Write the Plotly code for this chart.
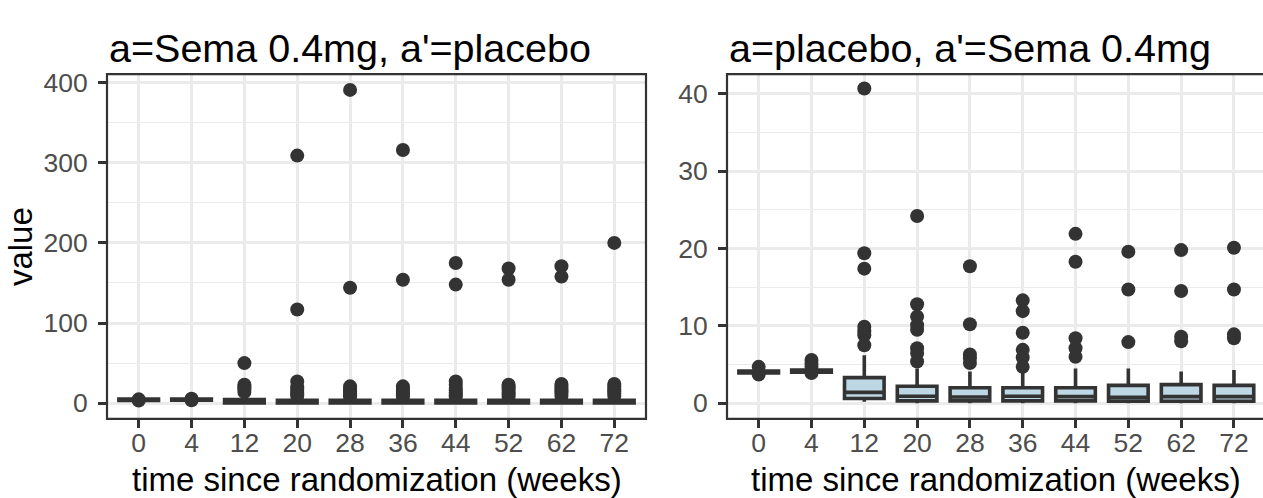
import plotly.graph_objects as go

weeks = ["0", "4", "12", "20", "28", "36", "44", "52", "62", "72"]

# Left panel: a=Sema 0.4mg, a'=placebo  (box statistics)
L_q1 = [3.4, 3.6, 0.3, 0.3, 0.3, 0.3, 0.3, 0.3, 0.3, 0.3]
L_med = [4.0, 4.2, 1.2, 1.0, 1.0, 1.0, 1.0, 1.0, 1.0, 1.0]
L_q3 = [5.0, 5.2, 4.5, 3.5, 3.5, 3.5, 3.5, 3.5, 3.5, 3.5]
L_lo = [3.2, 3.4, 0.1, 0.0, 0.0, 0.0, 0.0, 0.0, 0.0, 0.0]
L_hi = [5.4, 5.6, 8.0, 7.0, 7.0, 7.0, 7.0, 7.0, 7.0, 7.0]
L_out = [
    [4.8, 3.4],
    [5.6, 3.6],
    [50, 23, 20, 17, 14],
    [309, 117, 27, 20, 17, 14, 11, 9],
    [391, 144, 21, 18, 15, 12, 10, 8],
    [316, 154, 21, 18, 15, 12, 10, 8],
    [175, 148, 27, 23, 19, 16, 13, 10, 8],
    [168, 154, 23, 20, 17, 14, 11, 8],
    [171, 158, 24, 21, 18, 15, 12, 9],
    [200, 24, 21, 18, 15, 12, 9],
]

# Right panel: a=placebo, a'=Sema 0.4mg  (box statistics)
R_q1 = [3.9, 4.0, 0.6, 0.3, 0.3, 0.3, 0.3, 0.25, 0.25, 0.25]
R_med = [4.0, 4.15, 1.4, 0.9, 0.8, 0.9, 0.85, 0.75, 0.85, 0.85]
R_q3 = [4.15, 4.3, 3.3, 2.2, 2.0, 2.0, 2.0, 2.3, 2.4, 2.3]
R_lo = [3.8, 3.95, 0.2, 0.0, 0.0, 0.0, 0.0, 0.0, 0.0, 0.0]
R_hi = [4.4, 4.6, 6.2, 4.5, 4.1, 4.4, 4.5, 4.5, 4.1, 4.3]
R_out = [
    [4.7, 3.7],
    [5.6, 5.1, 4.7, 3.9],
    [40.7, 19.4, 17.4, 9.9, 9.3, 8.8, 7.5],
    [24.2, 12.8, 11.2, 10.1, 9.5, 7.1, 6.5, 5.4],
    [17.7, 10.2, 6.3, 5.8, 5.2],
    [13.3, 11.9, 9.1, 6.9, 5.9, 4.7],
    [21.9, 18.3, 8.4, 7.1, 6.0],
    [19.6, 14.7, 7.9],
    [19.8, 14.5, 8.6, 8.0],
    [20.1, 14.7, 8.9, 8.4],
]

titles = ["a=Sema 0.4mg, a'=placebo", "a=placebo, a'=Sema 0.4mg"]

W, H = 1263, 498
FONT = "Liberation Sans, Arial, sans-serif"
DARK = "#333333"
GRID = "#EBEBEB"
FILL = "#BED7E5"

fig = go.Figure()


def add_panel(q1, med, q3, lo, hi, outs, xa, ya):
    fig.add_trace(go.Box(
        x=weeks, q1=q1, median=med, q3=q3, lowerfence=lo, upperfence=hi,
        boxpoints=False, width=0.75, whiskerwidth=0,
        fillcolor=FILL, line=dict(color=DARK, width=3.6),
        xaxis=xa, yaxis=ya, showlegend=False, hoverinfo="skip"))
    xs, ys = [], []
    for w, vals in zip(weeks, outs):
        for v in vals:
            xs.append(w)
            ys.append(v)
    fig.add_trace(go.Scatter(
        x=xs, y=ys, mode="markers",
        marker=dict(color=DARK, size=14, line=dict(width=0)),
        xaxis=xa, yaxis=ya, showlegend=False, hoverinfo="skip"))


add_panel(L_q1, L_med, L_q3, L_lo, L_hi, L_out, "x", "y")
add_panel(R_q1, R_med, R_q3, R_lo, R_hi, R_out, "x2", "y2")

ydom = [(H - 418) / H, (H - 69) / H]
tickfont = dict(family=FONT, size=26.5, color="#4D4D4D")

xcommon = dict(type="category", categoryorder="array", categoryarray=weeks,
               showgrid=True, gridcolor=GRID, gridwidth=2.8,
               ticks="outside", ticklen=8, tickwidth=2.7, tickcolor=DARK,
               tickfont=tickfont, showline=False, zeroline=False,
               ticklabelstandoff=-8)
ycommon = dict(showgrid=True, gridcolor=GRID, gridwidth=2.8,
               ticks="outside", ticklen=8, tickwidth=2.7, tickcolor=DARK,
               tickfont=tickfont, showline=False, zeroline=False,
               ticklabelstandoff=5, domain=ydom)

fig.update_layout(
    width=W, height=H, autosize=False,
    margin=dict(l=0, r=0, t=0, b=0),
    paper_bgcolor="white", plot_bgcolor="white",
    font=dict(family=FONT),
    xaxis=dict(xcommon, domain=[107 / W, 646 / W], range=[-0.6, 9.6], anchor="y"),
    xaxis2=dict(xcommon, domain=[727 / W, 1.0], range=[-0.6, 9.55], anchor="y2"),
    yaxis=dict(ycommon, range=[-19.7, 410.6], tickvals=[0, 100, 200, 300, 400],
               minor=dict(tickvals=[50, 150, 250, 350], showgrid=True,
                          gridcolor=GRID, gridwidth=1.4, ticks=""),
               anchor="x"),
    yaxis2=dict(ycommon, range=[-2.04, 42.55], tickvals=[0, 10, 20, 30, 40],
                minor=dict(tickvals=[5, 15, 25, 35], showgrid=True,
                           gridcolor=GRID, gridwidth=1.4, ticks=""),
                anchor="x2"),
)

# panel borders
fig.add_shape(type="rect", xref="x domain", yref="y domain", x0=0, x1=1, y0=0, y1=1,
              line=dict(color=DARK, width=2.2), fillcolor="rgba(0,0,0,0)", layer="above")
fig.add_shape(type="rect", xref="x2 domain", yref="y2 domain", x0=0, x1=1.02, y0=0, y1=1,
              line=dict(color=DARK, width=2.2), fillcolor="rgba(0,0,0,0)", layer="above")

# titles
for xpx, t in zip([107, 727], titles):
    fig.add_annotation(text=t, x=xpx / W, y=(H - 43) / H, xref="paper", yref="paper",
                       xanchor="left", yanchor="middle", showarrow=False,
                       font=dict(family=FONT, size=39.5, color="black"))

# x axis titles
for cx in [(107 + 646) / 2, (727 + 1265) / 2]:
    fig.add_annotation(text="time since randomization (weeks)", x=cx / W, y=(H - 479) / H,
                       xref="paper", yref="paper", xanchor="center", yanchor="middle",
                       showarrow=False, font=dict(family=FONT, size=33, color="black"))

# y axis title
fig.add_annotation(text="value", x=20 / W, y=(H - 243) / H, xref="paper", yref="paper",
                   xanchor="center", yanchor="middle", textangle=-90, showarrow=False,
                   font=dict(family=FONT, size=33, color="black"))

fig.write_html("out.html")
